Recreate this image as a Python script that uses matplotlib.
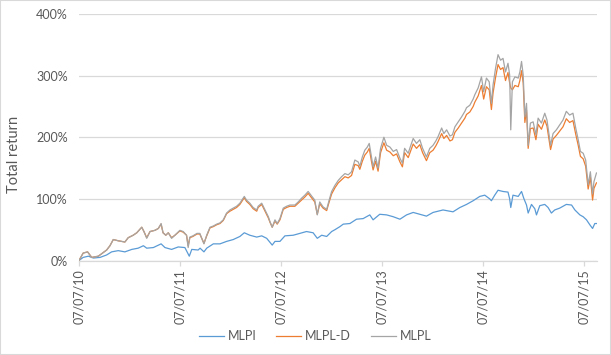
import matplotlib.pyplot as plt
import matplotlib.dates as mdates
import pandas as pd

# MLPL (gray) and MLPL-D (orange), total return in %
mlpl_dates = [
    '2010-07-07', '2010-07-22', '2010-08-07', '2010-08-22', '2010-09-15', '2010-10-15', '2010-10-27',
    '2010-11-08', '2010-11-26', '2010-12-20', '2011-01-01', '2011-01-19', '2011-02-01', '2011-02-19',
    '2011-02-27', '2011-03-09', '2011-03-21', '2011-04-08', '2011-04-20', '2011-04-30', '2011-05-07',
    '2011-05-17', '2011-05-26', '2011-06-07', '2011-06-19', '2011-07-07', '2011-07-19', '2011-07-31',
    '2011-08-06', '2011-08-12', '2011-08-23', '2011-09-07', '2011-09-17', '2011-09-24', '2011-10-02',
    '2011-10-12', '2011-10-24', '2011-11-05', '2011-11-17', '2011-11-29', '2011-12-11', '2011-12-23',
    '2012-01-04', '2012-01-16', '2012-01-28', '2012-02-09', '2012-02-25', '2012-03-04', '2012-03-16',
    '2012-03-28', '2012-04-10', '2012-04-15', '2012-04-28', '2012-05-10', '2012-05-22', '2012-05-28',
    '2012-06-05', '2012-06-15', '2012-06-23', '2012-07-03', '2012-07-15', '2012-07-27', '2012-08-08',
    '2012-08-26', '2012-09-07', '2012-09-19', '2012-10-01', '2012-10-13', '2012-10-25', '2012-11-06',
    '2012-11-15', '2012-11-24', '2012-12-06', '2012-12-19', '2012-12-28', '2013-01-06', '2013-01-18',
    '2013-01-30', '2013-02-11', '2013-02-23', '2013-03-07', '2013-03-19', '2013-03-31', '2013-04-12',
    '2013-04-18', '2013-04-27', '2013-05-06', '2013-05-15', '2013-05-22', '2013-05-30', '2013-06-05',
    '2013-06-14', '2013-06-23', '2013-07-02', '2013-07-14', '2013-07-24', '2013-08-05', '2013-08-17',
    '2013-08-29', '2013-09-10', '2013-09-19', '2013-09-27', '2013-10-10', '2013-10-18', '2013-10-28',
    '2013-11-09', '2013-11-21', '2013-12-01', '2013-12-15', '2013-12-27', '2014-01-08', '2014-01-18',
    '2014-01-26', '2014-02-08', '2014-02-16', '2014-02-26', '2014-03-10', '2014-03-19', '2014-03-28',
    '2014-04-09', '2014-04-21', '2014-05-03', '2014-05-09', '2014-05-21', '2014-06-02', '2014-06-08',
    '2014-06-20', '2014-07-02', '2014-07-10', '2014-07-20', '2014-07-30', '2014-08-07', '2014-08-13',
    '2014-08-22', '2014-08-31', '2014-09-09', '2014-09-18', '2014-09-27', '2014-10-06', '2014-10-12',
    '2014-10-16', '2014-10-22', '2014-10-31', '2014-11-12', '2014-11-18', '2014-11-24', '2014-11-30',
    '2014-12-06', '2014-12-12', '2014-12-18', '2014-12-26', '2015-01-05', '2015-01-15', '2015-01-23',
    '2015-02-04', '2015-02-16', '2015-02-24', '2015-03-09', '2015-03-18', '2015-03-30', '2015-04-11',
    '2015-04-23', '2015-05-05', '2015-05-17', '2015-05-29', '2015-06-08', '2015-06-17', '2015-06-25',
    '2015-07-05', '2015-07-14', '2015-07-23', '2015-07-31', '2015-08-08', '2015-08-13', '2015-08-22',
]
mlpl = [
    0, 12, 14, 5, 7, 17, 24,
    34, 32, 30, 37, 41, 45, 54,
    47, 36, 47, 49, 52, 60, 45,
    41, 45, 36, 41, 49, 47, 41,
    21, 38, 40, 44, 44, 36, 27,
    41, 54, 56, 59, 61, 66, 77,
    82, 85, 88, 93, 104, 98, 93,
    86, 82, 88, 93, 82, 71, 63,
    54, 66, 60, 68, 85, 88, 90,
    90, 95, 101, 106, 112, 105, 98,
    74, 95, 87, 83, 98, 112, 122,
    130, 136, 141, 139, 144, 163, 160,
    153, 168, 179, 184, 190, 168, 152,
    168, 150, 182, 200, 187, 184, 177,
    180, 166, 158, 182, 174, 185, 198,
    190, 196, 182, 168, 182, 187, 194,
    201, 215, 206, 212, 202, 204, 217,
    225, 233, 242, 248, 252, 262, 269,
    280, 298, 274, 296, 290, 255, 285,
    312, 334, 325, 328, 306, 320, 301,
    212, 290, 298, 296, 306, 323, 301,
    233, 255, 187, 223, 225, 204, 231,
    223, 239, 228, 187, 206, 212, 220,
    228, 242, 236, 239, 215, 196, 177,
    174, 163, 123, 144, 108, 128, 142,
]
mlpl_d = [
    0, 12, 14, 5, 7, 17, 24,
    34, 32, 30, 37, 41, 45, 54,
    47, 37, 47, 49, 52, 59, 45,
    41, 45, 37, 41, 48, 46, 41,
    24, 37, 39, 43, 43, 36, 28,
    40, 53, 55, 58, 60, 65, 76,
    80, 83, 86, 91, 102, 96, 91,
    84, 80, 86, 91, 80, 69, 62,
    54, 64, 59, 66, 83, 86, 88,
    88, 93, 98, 103, 109, 102, 95,
    75, 92, 85, 81, 95, 108, 118,
    126, 131, 136, 134, 138, 156, 154,
    148, 161, 171, 176, 182, 161, 147,
    161, 145, 175, 191, 179, 176, 170,
    173, 160, 152, 175, 167, 177, 189,
    182, 188, 175, 162, 175, 179, 186,
    193, 206, 198, 203, 194, 196, 208,
    215, 223, 231, 237, 241, 250, 257,
    267, 284, 262, 282, 277, 245, 272,
    297, 318, 310, 313, 292, 305, 288,
    280, 277, 284, 282, 292, 308, 288,
    224, 244, 182, 214, 215, 196, 221,
    213, 228, 218, 180, 197, 203, 210,
    217, 230, 224, 227, 205, 187, 169,
    165, 153, 116, 135, 98, 117, 126,
]

# MLPI (blue), total return in %
mlpi_dates = [
    '2010-07-07', '2010-07-22', '2010-08-10', '2010-08-28', '2010-09-21', '2010-10-15', '2010-11-02',
    '2010-11-26', '2010-12-20', '2011-01-14', '2011-02-06', '2011-02-25', '2011-03-09', '2011-04-02',
    '2011-04-30', '2011-05-14', '2011-06-07', '2011-07-01', '2011-07-25', '2011-08-10', '2011-08-19',
    '2011-09-11', '2011-09-18', '2011-10-02', '2011-10-12', '2011-11-05', '2011-11-29', '2011-12-23',
    '2012-01-16', '2012-02-09', '2012-02-25', '2012-03-16', '2012-04-10', '2012-04-28', '2012-05-16',
    '2012-06-05', '2012-06-15', '2012-07-03', '2012-07-21', '2012-08-20', '2012-09-13', '2012-10-07',
    '2012-10-31', '2012-11-15', '2012-12-01', '2012-12-19', '2013-01-06', '2013-01-18', '2013-02-05',
    '2013-02-17', '2013-03-13', '2013-04-06', '2013-04-30', '2013-05-24', '2013-06-05', '2013-06-29',
    '2013-07-24', '2013-08-17', '2013-09-10', '2013-10-04', '2013-10-28', '2013-11-21', '2013-12-15',
    '2014-01-08', '2014-02-13', '2014-03-21', '2014-04-15', '2014-05-09', '2014-06-02', '2014-06-26',
    '2014-07-14', '2014-08-01', '2014-08-07', '2014-08-19', '2014-08-31', '2014-09-18', '2014-10-06',
    '2014-10-12', '2014-10-16', '2014-10-24', '2014-11-12', '2014-11-24', '2014-12-02', '2014-12-12',
    '2014-12-18', '2014-12-30', '2015-01-11', '2015-01-17', '2015-01-29', '2015-02-16', '2015-02-28',
    '2015-03-12', '2015-03-24', '2015-04-11', '2015-05-05', '2015-05-24', '2015-06-05', '2015-06-23',
    '2015-07-05', '2015-07-17', '2015-07-29', '2015-08-08', '2015-08-16', '2015-08-22',
]
mlpi = [
    0, 5, 7, 4, 5, 9, 14,
    16, 14, 18, 20, 24, 20, 21,
    27, 21, 18, 22, 21, 7, 18,
    17, 20, 14, 20, 27, 27, 31,
    34, 39, 45, 41, 38, 40, 36,
    25, 31, 31, 40, 41, 44, 47,
    45, 36, 41, 39, 47, 50, 55,
    59, 60, 67, 68, 74, 66, 75,
    74, 71, 67, 74, 78, 75, 72,
    78, 82, 79, 86, 91, 97, 104,
    106, 100, 97, 106, 114, 112, 111,
    100, 86, 106, 104, 112, 101, 90,
    77, 91, 84, 74, 89, 91, 86,
    77, 82, 85, 91, 90, 82, 74,
    71, 66, 58, 52, 60, 60,
]

series_names = ['MLPI', 'MLPL-D', 'MLPL']
tick_dates = ['2010-07-07', '2011-07-07', '2012-07-07', '2013-07-07', '2014-07-07', '2015-07-07']
y_ticks = [0, 100, 200, 300, 400]

text_color = '#595959'
grid_color = '#D9D9D9'
plt.rcParams['font.family'] = ['Lato', 'DejaVu Sans']

fig = plt.figure(figsize=(6.11, 3.55), dpi=100)
ax = fig.add_axes([79 / 611, 94.5 / 355, 518 / 611, 246.5 / 355])

ax.plot(pd.to_datetime(mlpi_dates), mlpi, color='#5B9BD5', lw=0.9, label=series_names[0])
ax.plot(pd.to_datetime(mlpl_dates), mlpl_d, color='#ED7D31', lw=0.9, label=series_names[1])
ax.plot(pd.to_datetime(mlpl_dates), mlpl, color='#A5A5A5', lw=0.9, label=series_names[2])

ax.set_xlim(pd.Timestamp('2010-07-07'), pd.Timestamp('2015-08-24'))
ax.set_ylim(0, 400)
ax.set_yticks(y_ticks)
ax.set_yticklabels([f'{v}%' for v in y_ticks])
ax.set_xticks(pd.to_datetime(tick_dates))
ax.xaxis.set_major_formatter(mdates.DateFormatter('%m/%d/%y'))
plt.setp(ax.get_xticklabels(), rotation=90)

ax.grid(axis='y', color=grid_color, lw=0.9)
ax.set_axisbelow(True)
for s in ['left', 'right', 'top']:
    ax.spines[s].set_visible(False)
ax.spines['bottom'].set_color(grid_color)
ax.spines['bottom'].set_linewidth(0.9)
ax.tick_params(axis='y', length=0, pad=8, labelsize=9, labelcolor=text_color)
ax.tick_params(axis='x', length=3.5, width=0.9, color=grid_color, pad=3,
               labelsize=9, labelcolor=text_color)

ax.set_ylabel('Total return', fontsize=10.5, color=text_color)
ax.yaxis.set_label_coords(-(79 - 21) / 518, 0.43)

leg = fig.legend(loc='center', bbox_to_anchor=(315 / 611, 1 - 336 / 355), ncol=3,
                 frameon=False, fontsize=9, handlelength=2.0, handletextpad=0.3,
                 columnspacing=1.6)
for t in leg.get_texts():
    t.set_color(text_color)

fig.patches.append(plt.Rectangle((0, 0), 1, 1, transform=fig.transFigure,
                                 fill=False, ec=grid_color, lw=1.5))

plt.savefig('out.png', dpi=100)
